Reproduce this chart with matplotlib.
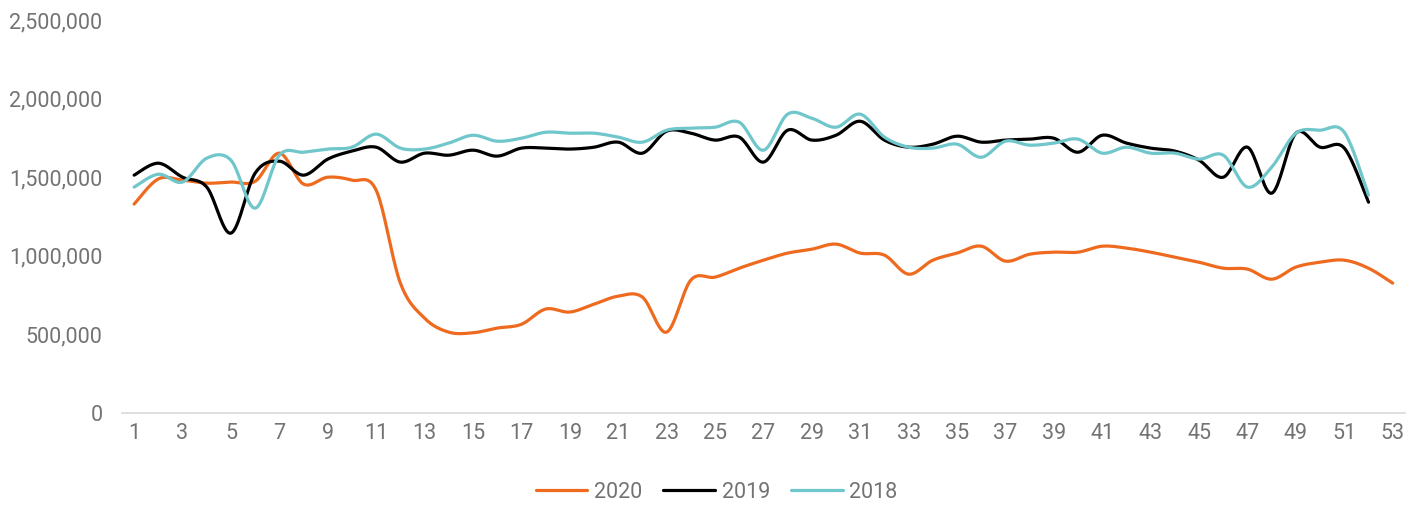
import numpy as np
import matplotlib
matplotlib.use("Agg")
import matplotlib.pyplot as plt
from matplotlib.ticker import FuncFormatter

plt.rcParams['font.family'] = ['Roboto', 'DejaVu Sans']

weeks = list(range(1, 54))

# valeurs hebdomadaires
y2020 = [1330000, 1490000, 1482000, 1463000, 1470000, 1475000, 1654000, 1457000, 1501000, 1482000,
         1418000, 827000, 604000, 515000, 511000, 541000, 565000, 662000, 643000, 693000,
         744000, 738000, 515000, 846000, 865000, 922000, 973000, 1018000, 1043000, 1075000,
         1018000, 1005000, 884000, 973000, 1018000, 1062000, 967000, 1011000, 1024000, 1024000,
         1062000, 1050000, 1024000, 992000, 960000, 922000, 916000, 852000, 929000, 960000,
         973000, 922000, 827000]

y2019 = [1514000, 1590000, 1501000, 1438000, 1145000, 1527000, 1603000, 1514000, 1616000, 1667000,
         1692000, 1597000, 1654000, 1641000, 1673000, 1635000, 1686000, 1686000, 1680000, 1692000,
         1724000, 1654000, 1794000, 1781000, 1737000, 1756000, 1597000, 1800000, 1737000, 1768000,
         1857000, 1737000, 1692000, 1711000, 1762000, 1724000, 1737000, 1743000, 1749000, 1660000,
         1768000, 1718000, 1686000, 1667000, 1609000, 1501000, 1692000, 1399000, 1781000, 1692000,
         1686000, 1342000]

y2018 = [1438000, 1520000, 1470000, 1622000, 1609000, 1304000, 1641000, 1660000, 1680000, 1692000,
         1775000, 1686000, 1680000, 1718000, 1768000, 1730000, 1749000, 1787000, 1781000, 1781000,
         1756000, 1724000, 1800000, 1813000, 1819000, 1851000, 1673000, 1902000, 1876000, 1819000,
         1902000, 1756000, 1692000, 1686000, 1711000, 1628000, 1730000, 1705000, 1718000, 1743000,
         1654000, 1692000, 1654000, 1654000, 1616000, 1641000, 1438000, 1565000, 1781000, 1800000,
         1787000, 1387000]

series = [("2020", y2020, "#EE6A1F"), ("2019", y2019, "#000000"), ("2018", y2018, "#6FC6CB")]


def lisser(x, y, n=20):
    # courbe lissee type Excel (Catmull-Rom)
    x = np.asarray(x, float)
    y = np.asarray(y, float)
    px = np.concatenate([[x[0]], x, [x[-1]]])
    py = np.concatenate([[y[0]], y, [y[-1]]])
    xs, ys = [], []
    t = np.linspace(0, 1, n, endpoint=False)
    for i in range(1, len(px) - 2):
        for p, out in ((px, xs), (py, ys)):
            p0, p1, p2, p3 = p[i - 1], p[i], p[i + 1], p[i + 2]
            c1 = p1 + (p2 - p0) / 6
            c2 = p2 - (p3 - p1) / 6
            out.extend((1 - t) ** 3 * p1 + 3 * (1 - t) ** 2 * t * c1 + 3 * (1 - t) * t ** 2 * c2 + t ** 3 * p2)
    xs.append(x[-1])
    ys.append(y[-1])
    return np.array(xs), np.array(ys)


fig = plt.figure(figsize=(14.19, 5.05), dpi=100)
ax = fig.add_axes([0.086, 0.182, 0.904, 0.778])

for nom, vals, coul in series:
    xs, ys = lisser(weeks[:len(vals)], vals)
    ax.plot(xs, ys, color=coul, lw=2.3, label=nom, solid_capstyle='round')

gris = "#737373"
ax.set_xlim(0.5, 53.5)
ax.set_ylim(0, 2500000)
ax.set_xticks(weeks[::2])
ax.set_yticks(np.arange(0, 2500001, 500000))
ax.yaxis.set_major_formatter(FuncFormatter(lambda v, p: f"{int(v):,}"))
ax.tick_params(length=0, labelsize=15.5, labelcolor=gris)
ax.tick_params(axis='x', pad=7)
ax.tick_params(axis='y', pad=14)

for c in ['top', 'right', 'left']:
    ax.spines[c].set_visible(False)
ax.spines['bottom'].set_color('#d9d9d9')
ax.spines['bottom'].set_linewidth(1.2)

h, l = ax.get_legend_handles_labels()
leg = fig.legend(h, l, loc='center', bbox_to_anchor=(0.505, 0.025), ncol=3, frameon=False,
                 fontsize=15.5, handlelength=2.4, handletextpad=0.3, columnspacing=1.0)
for txt in leg.get_texts():
    txt.set_color(gris)

plt.savefig('out.png', dpi=100)
